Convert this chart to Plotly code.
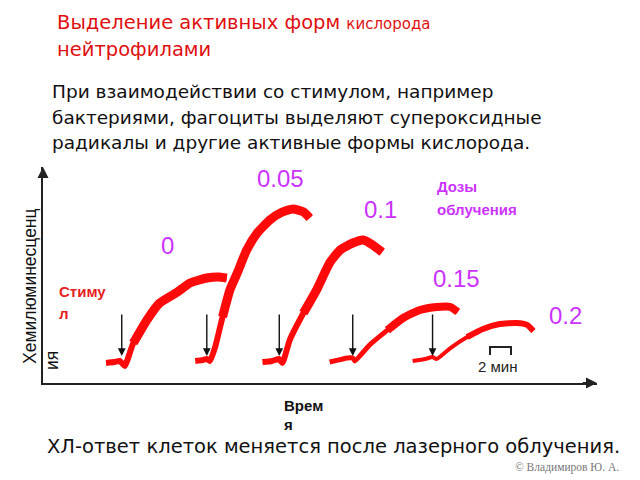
import plotly.graph_objects as go

# ---------------- data (time in minutes, chemiluminescence in arbitrary units) ----------------
doses = ["0", "0.05", "0.1", "0.15", "0.2"]

t_0 = [6.0, 6.8, 7.3, 7.6, 7.8, 8.6, 9.9, 11.1, 12.8, 14.0, 15.6, 16.7, 17.5]
cl_0 = [9.3, 9.7, 10.2, 8.8, 7.9, 18.5, 29.2, 37.0, 42.1, 46.3, 48.6, 49.1, 48.6]

t_005 = [14.5, 15.2, 15.6, 15.9, 16.4, 17.1, 17.8, 18.5, 19.4, 20.4, 21.6, 22.6, 23.8, 24.8, 25.4]
cl_005 = [10.2, 10.6, 11.1, 10.2, 16.7, 30.6, 43.1, 50.9, 61.6, 69.4, 75.5, 78.7, 80.6, 79.2, 76.4]

t_01 = [20.9, 21.8, 22.5, 22.8, 23.5, 24.8, 26.1, 27.3, 28.3, 29.5, 30.5, 31.4, 32.3]
cl_01 = [9.7, 10.2, 11.1, 9.3, 19.9, 32.4, 43.5, 55.6, 61.6, 64.8, 66.2, 63.9, 60.6]

t_015 = [27.3, 29.0, 29.5, 29.7, 31.1, 32.8, 34.3, 35.9, 37.5, 38.8, 39.5]
cl_015 = [9.7, 11.6, 11.6, 10.2, 17.6, 24.5, 30.1, 33.8, 35.2, 35.2, 32.9]

t_02 = [35.2, 36.4, 37.1, 37.5, 38.8, 40.4, 41.9, 43.5, 45.1, 46.1, 46.7]
cl_02 = [10.2, 11.1, 12.0, 11.1, 16.2, 21.3, 25.0, 27.3, 27.8, 26.9, 24.1]

stimulus_t = [7.5, 15.6, 22.5, 29.5, 37.1]
scale_bar_min = 2.0

# ---------------- layout helpers ----------------
X0, X1 = 43, 597     # pixel extent of plot area
Y0, Y1 = 383, 167
T_MAX = (X1 - X0) / 10.5
S_MAX = 100.0


def P(xp, yp):
    return dict(x=(xp - X0) / (X1 - X0), y=(Y0 - yp) / (Y0 - Y1), xref="paper", yref="paper")


def D(xp, yp):
    return ((xp - X0) / 10.5, (Y0 - yp) / 2.16)


RED = "#ff0a0a"
MAG = "#cc33ff"

# (times, values, base width, thick overlay width, index where the noisy band starts)
series = [(t_0, cl_0, 6, 9, 5), (t_005, cl_005, 6, 9, 5), (t_01, cl_01, 6, 9, 5),
          (t_015, cl_015, 5, 8, 5), (t_02, cl_02, 4, 6, 5)]

fig = go.Figure()
for (tt, cc, w, w2, k), d in zip(series, doses):
    fig.add_trace(go.Scatter(x=tt, y=cc, mode="lines", name=d,
                             line=dict(color=RED, width=w, shape="spline", smoothing=0.5),
                             hoverinfo="skip"))
    fig.add_trace(go.Scatter(x=tt[k:], y=cc[k:], mode="lines", name=d,
                             line=dict(color=RED, width=w2, shape="spline", smoothing=0.5),
                             hoverinfo="skip"))

# scale bar (2 min)
sb_x0 = D(490, 0)[0]
sb_lo, sb_hi = D(0, 355)[1], D(0, 347)[1]
fig.add_trace(go.Scatter(x=[sb_x0, sb_x0, sb_x0 + scale_bar_min, sb_x0 + scale_bar_min],
                         y=[sb_lo, sb_hi, sb_hi, sb_lo], mode="lines",
                         line=dict(color="#222", width=2), hoverinfo="skip"))

ann = []
# stimulus arrows
tail_s, head_s = D(0, 313)[1], D(0, 356)[1]
for st in stimulus_t:
    ann.append(dict(x=st, y=head_s, ax=st, ay=tail_s, xref="x", yref="y", axref="x", ayref="y",
                    showarrow=True, arrowhead=2, arrowsize=1.1, arrowwidth=1.4, arrowcolor="#111", text=""))

# dose labels
label_px = [(167, 245), (280, 178), (380, 209), (456, 278), (565, 315)]
for d, (xp, yp) in zip(doses, label_px):
    ann.append(dict(**P(xp, yp), text=d, showarrow=False, xanchor="center", yanchor="middle",
                    font=dict(family="Liberation Sans", size=24, color=MAG)))

# axis arrowheads
ann.append(dict(x=T_MAX, y=0, ax=T_MAX - 1.5, ay=0, xref="x", yref="y", axref="x", ayref="y",
                showarrow=True, arrowhead=2, arrowsize=1.1, arrowwidth=2, arrowcolor="#222", text=""))
ann.append(dict(x=0, y=S_MAX, ax=0, ay=S_MAX - 5, xref="x", yref="y", axref="x", ayref="y",
                showarrow=True, arrowhead=2, arrowsize=1.1, arrowwidth=2, arrowcolor="#222", text=""))


def txt(xp, yp, s, size, color="#111", family="Liberation Sans", xanchor="left", **kw):
    ann.append(dict(**P(xp, yp), text=s, showarrow=False, xanchor=xanchor, yanchor="middle",
                    font=dict(family=family, size=size, color=color), **kw))


TF = "DejaVu Sans"
txt(55, 22, "Выделение активных форм <span style='font-size:15px'>кислорода</span>", 19.5, "#e01010", TF)
txt(55, 49, "нейтрофилами", 19.5, "#e01010", TF)
txt(50, 91, "При взаимодействии со стимулом, например", 18.5, "#111", TF)
txt(50, 117, "бактериями, фагоциты выделяют супероксидные", 18.5, "#111", TF)
txt(50, 142, "радикалы и другие активные формы кислорода.", 18.5, "#111", TF)
txt(45, 446, "ХЛ-ответ клеток меняется после лазерного облучения.", 19.5, "#111", TF)
txt(621, 467, "© Владимиров Ю. А.", 11.5, "#777", "Liberation Serif", xanchor="right")

txt(435, 186, "<b>Дозы</b>", 15, MAG)
txt(435, 209, "<b>облучения</b>", 15, MAG)
txt(57, 291, "<b>Стиму</b>", 15, "#e51e1e")
txt(57, 313, "<b>л</b>", 15, "#e51e1e")
txt(282, 405, "<b>Врем</b>", 15, "#111")
txt(282, 424, "<b>я</b>", 15, "#111")
txt(498, 366, "2 мин", 15, "#222", xanchor="center")
ann.append(dict(**P(30, 286), text="Хемилюминесценц", textangle=-90, showarrow=False,
                xanchor="center", yanchor="middle",
                font=dict(family="Liberation Sans", size=17.5, color="#111")))
ann.append(dict(**P(52, 361), text="ия", textangle=-90, showarrow=False,
                xanchor="center", yanchor="middle",
                font=dict(family="Liberation Sans", size=17.5, color="#111")))

fig.update_layout(
    width=640, height=480,
    margin=dict(l=X0, r=640 - X1, t=Y1, b=480 - Y0, pad=0),
    paper_bgcolor="white", plot_bgcolor="white",
    showlegend=False,
    xaxis=dict(range=[0, T_MAX], showgrid=False, zeroline=False, showticklabels=False, ticks="",
               showline=True, linecolor="#222", linewidth=2, mirror=False),
    yaxis=dict(range=[0, S_MAX], showgrid=False, zeroline=False, showticklabels=False, ticks="",
               showline=True, linecolor="#222", linewidth=2, mirror=False),
    annotations=ann,
)

fig.write_html("out.html")
